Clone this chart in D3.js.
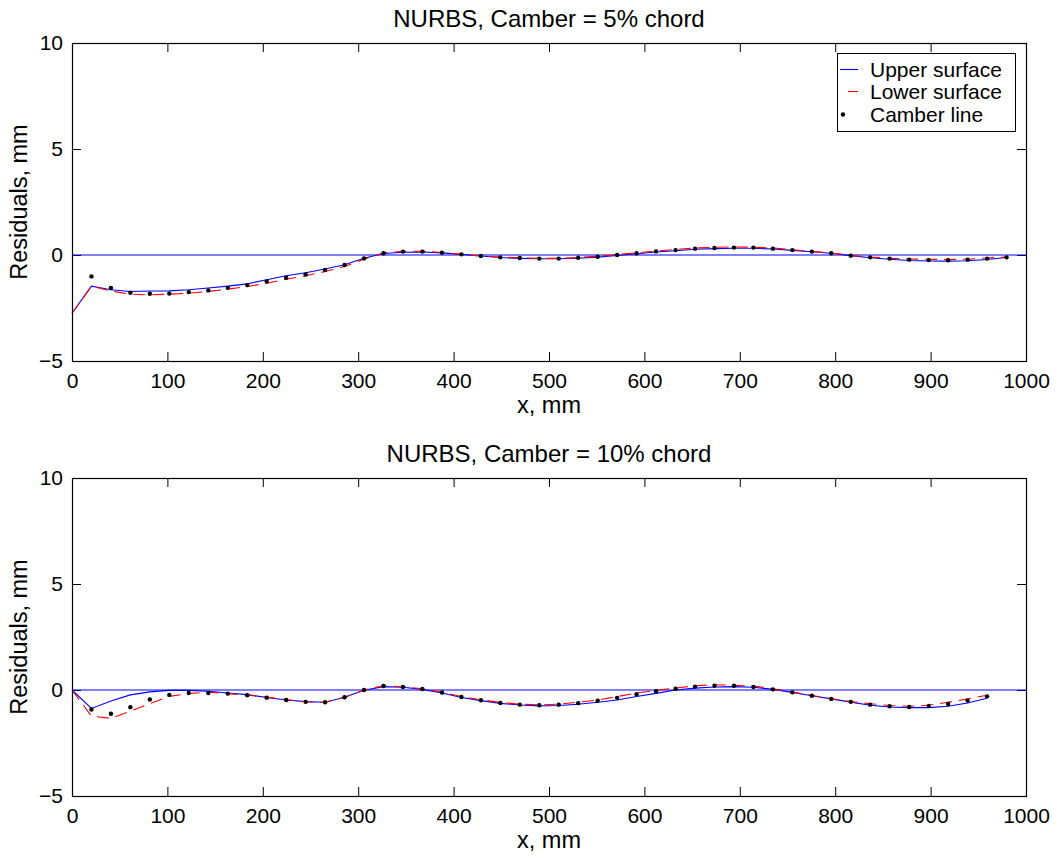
<!DOCTYPE html>
<html>
<head>
<meta charset="utf-8">
<script src="https://cdn.jsdelivr.net/npm/d3@7"></script>
<style>
  body { margin: 0; background: #fff; }
  text { font-family: "Liberation Sans", Arial, Helvetica, sans-serif; fill: #000; }
</style>
</head>
<body>
<svg id="fig" width="1057" height="857"></svg>
<script>
// Chordwise stations, mm (k = 0 .. 48)
const stations = [0, 20.4, 40.8, 61.2, 81.6, 102.0, 122.4, 142.9, 163.3, 183.7,
  204.1, 224.5, 244.9, 265.3, 285.7, 306.1, 326.5, 346.9, 367.3, 387.8,
  408.2, 428.6, 449.0, 469.4, 489.8, 510.2, 530.6, 551.0, 571.4, 591.8,
  612.2, 632.7, 653.1, 673.5, 693.9, 714.3, 734.7, 755.1, 775.5, 795.9,
  816.3, 836.7, 857.1, 877.6, 898.0, 918.4, 938.8, 959.2, 979.6];

// Camber = 5% chord: residuals, mm (surfaces from k = 0, camber line from k = 1)
const upper5 = [-2.75, -1.47, -1.64, -1.72, -1.70, -1.69, -1.64, -1.56, -1.47, -1.36,
  -1.17, -0.98, -0.84, -0.66, -0.46, -0.15, 0.07, 0.13, 0.14, 0.10,
  0.03, -0.05, -0.12, -0.16, -0.18, -0.18, -0.15, -0.10, -0.02, 0.06,
  0.14, 0.20, 0.27, 0.30, 0.32, 0.32, 0.28, 0.22, 0.15, 0.08,
  -0.03, -0.13, -0.20, -0.26, -0.28, -0.29, -0.27, -0.21, -0.12];
const lower5 = [-2.75, -1.47, -1.70, -1.85, -1.88, -1.85, -1.80, -1.72, -1.61, -1.49,
  -1.33, -1.14, -0.98, -0.78, -0.54, -0.20, 0.10, 0.18, 0.18, 0.12,
  0.03, -0.05, -0.10, -0.13, -0.16, -0.16, -0.12, -0.06, 0.02, 0.10,
  0.19, 0.26, 0.33, 0.36, 0.38, 0.37, 0.33, 0.25, 0.17, 0.09,
  -0.02, -0.10, -0.15, -0.19, -0.20, -0.21, -0.20, -0.14, -0.10];
const camber5 = [-1.01, -1.56, -1.78, -1.83, -1.82, -1.75, -1.67, -1.55, -1.42,
  -1.25, -1.07, -0.92, -0.71, -0.47, -0.16, 0.08, 0.16, 0.16, 0.11,
  0.03, -0.05, -0.11, -0.14, -0.17, -0.17, -0.13, -0.08, 0.00, 0.08,
  0.17, 0.23, 0.30, 0.33, 0.35, 0.35, 0.30, 0.23, 0.16, 0.08,
  -0.03, -0.11, -0.17, -0.22, -0.24, -0.25, -0.22, -0.17, -0.11];

// Camber = 10% chord
const upper10 = [0, -0.87, -0.52, -0.23, -0.09, -0.02, -0.02, -0.06, -0.14, -0.22,
  -0.35, -0.47, -0.55, -0.58, -0.34, -0.01, 0.16, 0.13, 0.03, -0.14,
  -0.35, -0.50, -0.63, -0.71, -0.75, -0.73, -0.67, -0.58, -0.47, -0.31,
  -0.16, 0.00, 0.09, 0.14, 0.16, 0.13, 0.03, -0.11, -0.27, -0.42,
  -0.57, -0.72, -0.80, -0.83, -0.83, -0.77, -0.61, -0.39];
const lower10 = [0, -1.23, -1.34, -1.00, -0.64, -0.30, -0.17, -0.10, -0.17, -0.25,
  -0.33, -0.45, -0.56, -0.58, -0.34, 0.00, 0.20, 0.15, 0.06, -0.10,
  -0.31, -0.46, -0.59, -0.67, -0.70, -0.67, -0.57, -0.48, -0.31, -0.14,
  -0.02, 0.09, 0.20, 0.25, 0.22, 0.19, 0.06, -0.10, -0.26, -0.41,
  -0.55, -0.65, -0.73, -0.77, -0.72, -0.58, -0.42, -0.25];
const camber10 = [-0.92, -1.12, -0.81, -0.45, -0.23, -0.14, -0.14, -0.17, -0.25,
  -0.36, -0.47, -0.56, -0.58, -0.34, 0.00, 0.19, 0.14, 0.05, -0.12,
  -0.33, -0.48, -0.61, -0.69, -0.72, -0.69, -0.62, -0.51, -0.37, -0.20,
  -0.06, 0.06, 0.16, 0.20, 0.20, 0.14, 0.03, -0.11, -0.27, -0.42,
  -0.56, -0.69, -0.77, -0.80, -0.75, -0.66, -0.50, -0.30];

const titles = ["NURBS, Camber = 5% chord", "NURBS, Camber = 10% chord"];
const xTicks = [0, 100, 200, 300, 400, 500, 600, 700, 800, 900, 1000];
const yTicks = [-5, 0, 5, 10];
const legendLabels = ["Upper surface", "Lower surface", "Camber line"];

const svg = d3.select("#fig");
const left = 72, right = 1026;
const x = d3.scaleLinear().domain([0, 1000]).range([left, right]);
const fmt = d3.format("d");

const panels = [
  { top: 43, bottom: 361, title: titles[0], upper: upper5, lower: lower5, camber: camber5, legend: true },
  { top: 478, bottom: 796, title: titles[1], upper: upper10, lower: lower10, camber: camber10, legend: false }
];

panels.forEach(p => {
  const y = d3.scaleLinear().domain([-5, 10]).range([p.bottom, p.top]);
  const g = svg.append("g");

  // axes: ticks point inward on all four sides
  g.append("g").attr("transform", `translate(0,${p.bottom})`)
    .call(d3.axisBottom(x).tickValues(xTicks).tickFormat(fmt).tickSize(-9).tickSizeOuter(0).tickPadding(12));
  g.append("g").attr("transform", `translate(0,${p.top})`)
    .call(d3.axisTop(x).tickValues(xTicks).tickSize(-9).tickSizeOuter(0).tickFormat(""));
  g.append("g").attr("transform", `translate(${left},0)`)
    .call(d3.axisLeft(y).tickValues(yTicks).tickSize(-9).tickSizeOuter(0).tickPadding(9));
  g.append("g").attr("transform", `translate(${right},0)`)
    .call(d3.axisRight(y).tickValues(yTicks).tickSize(-9).tickSizeOuter(0).tickFormat(""));
  g.selectAll(".domain").remove();
  g.selectAll(".tick line").attr("stroke", "#000");
  g.selectAll(".tick text").attr("font-size", 21).attr("font-family", null);

  // zero reference
  g.append("line")
    .attr("x1", x(0)).attr("x2", x(1000))
    .attr("y1", y(0)).attr("y2", y(0))
    .attr("stroke", "#0000ff").attr("stroke-width", 1.1);

  const line = d3.line().x((d, i) => x(stations[i])).y(d => y(d));
  g.append("path").datum(p.upper).attr("d", line)
    .attr("fill", "none").attr("stroke", "#0000ff").attr("stroke-width", 1.1);
  g.append("path").datum(p.lower).attr("d", line)
    .attr("fill", "none").attr("stroke", "#ff0000").attr("stroke-width", 1.1)
    .attr("stroke-dasharray", "12,7");
  g.selectAll("circle.cam").data(p.camber).enter().append("circle")
    .attr("class", "cam")
    .attr("cx", (d, i) => x(stations[i + 1]))
    .attr("cy", d => y(d))
    .attr("r", 2.2).attr("fill", "#000");

  // axes box
  g.append("rect")
    .attr("x", left + 0.5).attr("y", p.top + 0.5)
    .attr("width", right - left).attr("height", p.bottom - p.top)
    .attr("fill", "none").attr("stroke", "#000").attr("stroke-width", 1.2);

  // titles and labels
  g.append("text").attr("x", (left + right) / 2).attr("y", p.top - 16)
    .attr("text-anchor", "middle").attr("font-size", 24).text(p.title);
  g.append("text").attr("x", (left + right) / 2).attr("y", p.bottom + 52)
    .attr("text-anchor", "middle").attr("font-size", 23.5).text("x, mm");
  g.append("text")
    .attr("transform", `translate(27,${(p.top + p.bottom) / 2}) rotate(-90)`)
    .attr("text-anchor", "middle").attr("font-size", 23.5).text("Residuals, mm");

  if (p.legend) {
    const lg = g.append("g");
    lg.append("rect").attr("x", 837.5).attr("y", 53.5).attr("width", 178).attr("height", 78)
      .attr("fill", "#fff").attr("stroke", "#000").attr("stroke-width", 1);
    const rows = [77, 99, 122];
    lg.append("line").attr("x1", 840).attr("x2", 858).attr("y1", rows[0] - 7.5).attr("y2", rows[0] - 7.5)
      .attr("stroke", "#0000ff").attr("stroke-width", 1.1);
    lg.append("line").attr("x1", 848).attr("x2", 858).attr("y1", rows[1] - 7.5).attr("y2", rows[1] - 7.5)
      .attr("stroke", "#ff0000").attr("stroke-width", 1.1);
    lg.append("circle").attr("cx", 843).attr("cy", rows[2] - 7.5).attr("r", 2.2).attr("fill", "#000");
    legendLabels.forEach((t, i) => {
      lg.append("text").attr("x", 870).attr("y", rows[i]).attr("font-size", 21).text(t);
    });
  }
});
</script>
</body>
</html>
